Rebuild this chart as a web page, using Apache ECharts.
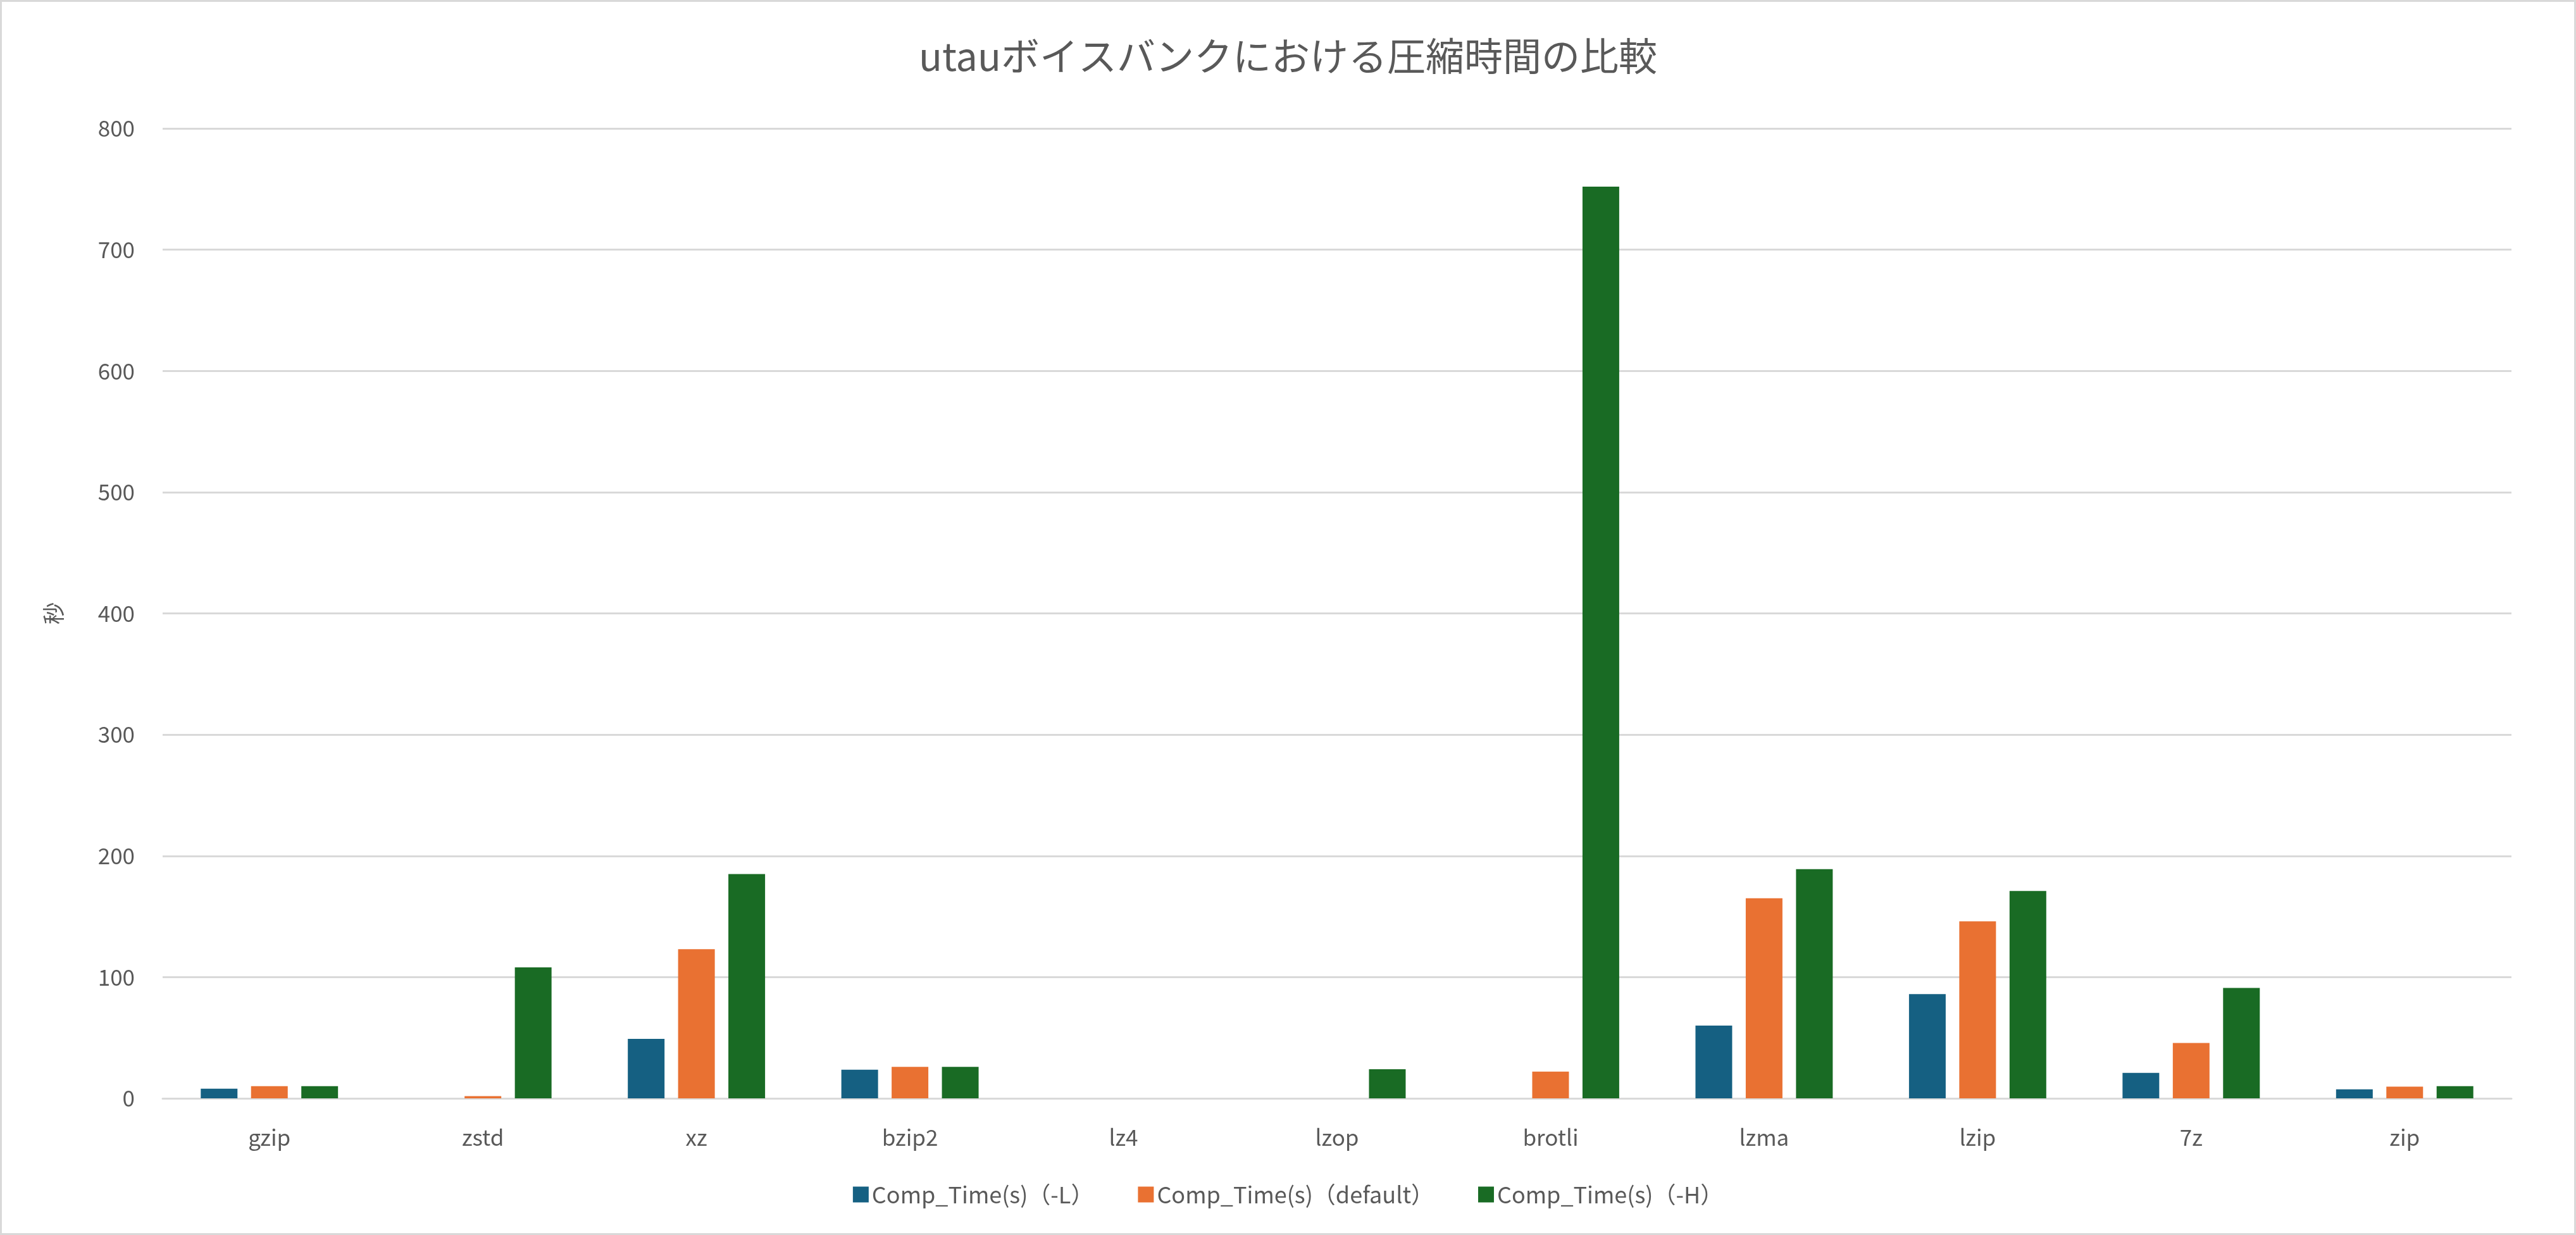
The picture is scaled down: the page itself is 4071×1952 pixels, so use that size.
<!DOCTYPE html>
<html>
<head>
<meta charset="utf-8">
<script src="https://cdn.jsdelivr.net/npm/echarts@6/dist/echarts.min.js"></script>
<style>
html,body{margin:0;padding:0;background:#fff;}
#chart{width:4071px;height:1952px;box-sizing:border-box;border:3px solid #d9d9d9;}
</style>
</head>
<body>
<div id="chart"></div>
<script>
var categories = ['gzip', 'zstd', 'xz', 'bzip2', 'lz4', 'lzop', 'brotli', 'lzma', 'lzip', '7z', 'zip'];
var timeLow = [8, 0, 49, 23.6, 0, 0, 0, 60, 86, 21, 7.5];
var timeDefault = [10, 1.8, 123, 26, 0, 0, 22, 165, 146, 45.6, 9.6];
var timeHigh = [10, 108, 185, 26, 0, 24, 752, 189, 171, 91, 10];
var seriesNames = ['Comp_Time(s)（-L）', 'Comp_Time(s)（default）', 'Comp_Time(s)（-H）'];

var font = '"Noto Sans CJK JP", "Noto Sans", sans-serif';
var myChart = echarts.init(document.getElementById('chart'));

function bar(name, data) {
	return {
		name: name,
		type: 'bar',
		data: data,
		barWidth: 58,
		barGap: '37%'
	};
}

var option = {
	color: ['#156082', '#e97132', '#196b24'],
	textStyle: { fontFamily: font },
	title: {
		text: 'utauボイスバンクにおける圧縮時間の比較',
		left: 'center',
		top: 50,
		textStyle: { fontSize: 61, fontWeight: 'normal', color: '#595959', fontFamily: font }
	},
	legend: {
		bottom: 38,
		left: 'center',
		itemWidth: 25,
		itemHeight: 25,
		itemGap: 70,
		icon: 'rect',
		textStyle: { fontSize: 36, color: '#595959', fontFamily: font },
		data: seriesNames
	},
	grid: { left: 254, right: 99, top: 200, bottom: 213 },
	xAxis: {
		type: 'category',
		data: categories,
		axisTick: { show: false },
		axisLine: { lineStyle: { color: '#d9d9d9', width: 3 } },
		axisLabel: { fontSize: 35, color: '#595959', margin: 44 }
	},
	yAxis: {
		type: 'value',
		min: 0,
		max: 800,
		interval: 100,
		name: '秒',
		nameLocation: 'middle',
		nameGap: 155,
		nameRotate: 90,
		nameTextStyle: { fontSize: 35, color: '#595959' },
		axisLabel: { fontSize: 35, color: '#595959', margin: 44 },
		splitLine: { lineStyle: { color: '#d9d9d9', width: 3 } }
	},
	series: [
		bar(seriesNames[0], timeLow),
		bar(seriesNames[1], timeDefault),
		bar(seriesNames[2], timeHigh)
	]
};
myChart.setOption(option);
</script>
</body>
</html>
